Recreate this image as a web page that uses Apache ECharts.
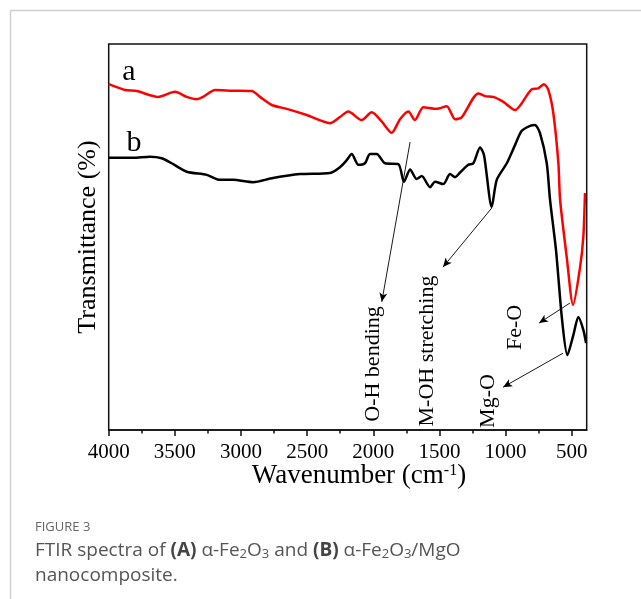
<!DOCTYPE html>
<html><head><meta charset="utf-8">
<script src="https://cdn.jsdelivr.net/npm/echarts@6/dist/echarts.min.js"></script>
<style>html,body{margin:0;padding:0;background:#fff}#c{width:641px;height:599px}</style>
</head><body><div id="c"></div>
<script>
// Curve a: alpha-Fe2O3
const redWn = [4000,3877,3788,3627,3499,3410,3335,3287,3196,3060,2919,2856,2768,2654,2503,2327,2252,2189,2088,2012,1936,1861,1798,1735,1685,1622,1521,1445,1382,1332,1206,1155,1093,1017,929,802,753,710,677,639,601,588,538,490,437,412,400];
const redT = [89.6,88.1,87.8,86.3,87.6,86.3,85.7,86.3,88.1,87.9,87.8,86.3,84.2,83.2,81.6,79.5,81.1,82.5,80.3,82.3,79.9,77.0,80.5,82.5,80.3,83.6,83.2,83.9,80.5,81.0,87.2,86.5,86.3,85.0,82.9,88.3,88.5,89.6,88.1,82.0,69.1,59.6,44.8,32.4,42.2,50.3,61.4];
// Curve b: alpha-Fe2O3/MgO
const blackWn = [4000,3816,3688,3599,3524,3410,3259,3159,3060,2909,2758,2554,2327,2252,2201,2163,2113,2063,2025,1974,1911,1811,1768,1722,1672,1634,1571,1533,1471,1420,1382,1344,1282,1244,1193,1163,1105,1067,991,929,878,815,778,740,689,664,619,573,533,488,450,412,392];
const blackT = [70.5,70.5,70.8,70.4,69.1,66.9,66.1,64.8,64.8,64.2,65.3,66.3,66.6,68.1,69.9,71.5,68.7,69.1,71.5,71.5,69.1,68.9,64.3,67.5,65.0,65.8,62.9,64.3,63.7,66.3,65.5,66.7,68.7,69.1,73.2,71.2,57.8,64.8,69.1,73.8,77.5,78.8,79.0,76.9,69.1,59.6,46.6,28.5,19.4,24.6,29.3,25.9,22.5];
// Tick labels
const majorTicks = [4000,3500,3000,2500,2000,1500,1000,500];
const minorTicks = [3750,3250,2750,2250,1750,1250,750];
// Annotation arrows (from [wn, T] to [wn, T])
const arrowFrom = [[1722,74.6],[1105,57.5],[513,32.9],[566,19.9]];
const arrowTo = [[1936,33.2],[1473,42.2],[747,27.7],[1019,11.1]];
const annotTexts = ['O-H bending','M-OH stretching','Fe-O','Mg-O'];

const serif = '"Liberation Serif","Times New Roman",serif';
const sans = '"Open Sans", Lato, sans-serif';
const chart = echarts.init(document.getElementById('c'), null, {renderer:'canvas'});
const pairs = (a,b)=>a.map((v,i)=>[v,b[i]]);
const xRange = {min:387, max:4000};

const option = {
  animation:false,
  backgroundColor:'#fff',
  grid:{left:108.7, right:54.3, top:44, bottom:169, show:true, borderColor:'#111', borderWidth:1.5, backgroundColor:'transparent'},
  xAxis:[{
    type:'value', inverse:true, min:xRange.min, max:xRange.max, position:'bottom',
    axisLine:{show:true, onZero:false, lineStyle:{color:'#111', width:1.5}},
    axisTick:{show:true, customValues:majorTicks, length:6, inside:false, lineStyle:{color:'#111', width:1.5}},
    axisLabel:{show:true, customValues:majorTicks, margin:12, fontFamily:serif, fontSize:21, color:'#000', formatter:v=>String(v)},
    splitLine:{show:false}
  },{
    type:'value', inverse:true, min:xRange.min, max:xRange.max, position:'bottom',
    axisLine:{show:false, onZero:false},
    axisTick:{show:true, customValues:minorTicks, length:3.5, lineStyle:{color:'#111', width:1.5}},
    axisLabel:{show:false},
    splitLine:{show:false}
  }],
  yAxis:{type:'value', min:0, max:100, show:true, axisLine:{show:false}, axisTick:{show:false}, axisLabel:{show:false}, splitLine:{show:false}},
  series:[
    {type:'line', name:'a', data:pairs(redWn,redT), showSymbol:false, smooth:0.25, lineStyle:{color:'#ff0000', width:2.5}, itemStyle:{color:'#ff0000'}},
    {type:'line', name:'b', data:pairs(blackWn,blackT), showSymbol:false, smooth:0.25, lineStyle:{color:'#000', width:2.5}, itemStyle:{color:'#000'},
     markLine:{silent:true, symbol:['none','arrow'], symbolSize:[6,9], label:{show:false}, lineStyle:{color:'#000', width:0.9, type:'solid'},
       data: arrowFrom.map((f,i)=>[{coord:f},{coord:arrowTo[i]}])}}
  ],
  graphic:[
    {type:'line', shape:{x1:10.5,y1:10.5,x2:641,y2:10.5}, style:{stroke:'#cfcfcf', lineWidth:1.5}},
    {type:'line', shape:{x1:10.5,y1:10.5,x2:10.5,y2:599}, style:{stroke:'#cfcfcf', lineWidth:1.5}},
    {type:'text', x:129, y:72, style:{text:'a', font:'30px '+serif, fill:'#000', textAlign:'center', textVerticalAlign:'middle'}},
    {type:'text', x:134, y:143, style:{text:'b', font:'30px '+serif, fill:'#000', textAlign:'center', textVerticalAlign:'middle'}},
    {type:'text', x:373, y:364, rotation:Math.PI/2, style:{text:annotTexts[0], font:'22px '+serif, fill:'#000', textAlign:'center', textVerticalAlign:'middle'}},
    {type:'text', x:427, y:351, rotation:Math.PI/2, style:{text:annotTexts[1], font:'22px '+serif, fill:'#000', textAlign:'center', textVerticalAlign:'middle'}},
    {type:'text', x:515, y:327.5, rotation:Math.PI/2, style:{text:annotTexts[2], font:'22px '+serif, fill:'#000', textAlign:'center', textVerticalAlign:'middle'}},
    {type:'text', x:488, y:401, rotation:Math.PI/2, style:{text:annotTexts[3], font:'22px '+serif, fill:'#000', textAlign:'center', textVerticalAlign:'middle'}},
    {type:'text', x:88, y:237, rotation:Math.PI/2, style:{text:'Transmittance (%)', font:'26px '+serif, fill:'#000', textAlign:'center', textVerticalAlign:'middle'}},
    {type:'text', x:359, y:476, style:{text:'Wavenumber (cm{sup|-1})', font:'27px '+serif, fill:'#000', textAlign:'center', textVerticalAlign:'middle',
      rich:{sup:{fontSize:16, fontFamily:serif, verticalAlign:'top', fill:'#000'}}}},
    {type:'text', x:35, y:527, style:{text:'FIGURE 3', font:'13px '+sans, fill:'#666', textAlign:'left', textVerticalAlign:'middle'}},
    {type:'text', x:35, y:551, style:{text:'FTIR spectra of {b|(A)} α-Fe{sub|2}O{sub|3} and {b|(B)} α-Fe{sub|2}O{sub|3}/MgO', font:'19px '+sans, fill:'#555', textAlign:'left', textVerticalAlign:'middle',
      rich:{b:{fontWeight:'bold', fontSize:19, fontFamily:sans, fill:'#444'}, sub:{fontSize:13, fontFamily:sans, verticalAlign:'bottom', fill:'#555'}}}},
    {type:'text', x:35, y:576, style:{text:'nanocomposite.', font:'19px '+sans, fill:'#555', textAlign:'left', textVerticalAlign:'middle'}}
  ]
};
chart.setOption(option);
</script></body></html>
